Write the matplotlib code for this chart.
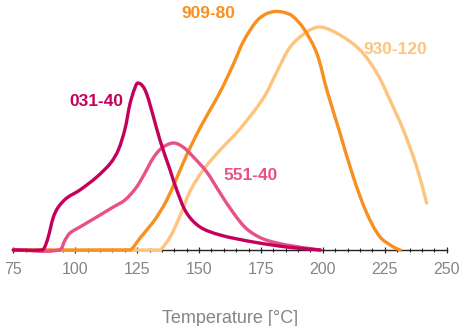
import numpy as np
import matplotlib
matplotlib.use("Agg")
import matplotlib.pyplot as plt
from matplotlib.path import Path
from matplotlib.patches import PathPatch
from matplotlib.ticker import MultipleLocator

plt.rcParams['font.family'] = ['Liberation Sans', 'DejaVu Sans']

# curves: temperature (°C) and relative intensity
t_031 = [75, 86.5, 87.5, 89.0, 91.2, 93.2, 96.6, 101.9, 108.7, 114.3, 117.4, 120.1, 122.1, 124.1, 125.5, 128.2, 131.5, 134.2, 138.3, 141, 145, 150.4, 158.5, 171.9, 185.4, 194, 199]
h_031 = [0, 0, 2, 12, 33, 43, 52, 60, 73, 87, 100, 121, 146, 162, 167, 160, 134, 110, 80, 60, 37, 23, 15, 8, 3, 1, 0]

t_551 = [75, 93.5, 95.9, 97.9, 101.9, 108.7, 115.4, 120.1, 124.5, 127.5, 131.5, 135, 139.6, 143.5, 147.7, 153.1, 158.5, 163.9, 169.3, 176, 185.4, 198.9]
h_551 = [0, 0, 10, 17, 23, 33, 43, 50, 62, 74, 92, 102, 107, 103, 93, 78, 57, 37, 21, 11, 5, 0]

t_909 = [75, 121.5, 122.8, 126.2, 131.5, 134.2, 137, 141, 145, 150.4, 158.5, 163.9, 168, 173.3, 177, 180.8, 184.5, 187.7, 192.1, 197.5, 201.6, 206.9, 212.3, 217.7, 223.1, 228.5, 231.2]
h_909 = [0, 0, 1, 12, 28, 38, 50, 72, 95, 122, 158, 186, 209, 229, 236, 238.5, 237.5, 234, 222, 197, 160, 117, 73, 37, 13, 3, 0]

t_930 = [75, 133.5, 134.8, 138.3, 142.3, 146.4, 151.7, 158.5, 166.5, 176, 181.4, 186.8, 193.5, 198.9, 206.9, 215, 221.8, 227.1, 232.5, 237.9, 241.9]
h_930 = [0, 0, 1, 13, 34, 59, 80, 100, 121, 152, 178, 203, 218, 223, 215, 200, 177, 150, 120, 83, 47]

series = [
    ("930-120", t_930, h_930, "#FDC47F"),
    ("909-80", t_909, h_909, "#F7901E"),
    ("551-40", t_551, h_551, "#E8508A"),
    ("031-40", t_031, h_031, "#C4005A"),
]

# label anchor points (temperature, height, alignment)
labels = {
    "031-40": (119.3, 148, "right"),
    "909-80": (164.5, 236, "right"),
    "930-120": (216.2, 201, "left"),
    "551-40": (159.7, 74, "left"),
}


def smooth_path(t, h, sx=2.476):
    # bezier path through the read points (tangent-based handles)
    p = np.column_stack([np.asarray(t, float) * sx, np.asarray(h, float)])
    n = len(p)
    tang = np.zeros_like(p)
    for i in range(n):
        a = p[max(i - 1, 0)]
        b = p[min(i + 1, n - 1)]
        d = b - a
        tang[i] = d / np.hypot(*d)
    verts = [p[0]]
    codes = [Path.MOVETO]
    for i in range(n - 1):
        seg = np.hypot(*(p[i + 1] - p[i])) / 3
        verts += [p[i] + tang[i] * seg, p[i + 1] - tang[i + 1] * seg, p[i + 1]]
        codes += [Path.CURVE4] * 3
    verts = np.array(verts)
    verts[:, 0] /= sx
    return Path(verts, codes)


fig = plt.figure(figsize=(4.64, 3.26), dpi=100)
ax = fig.add_axes([13.3 / 464, 76 / 326, 433.4 / 464, 245 / 326])

for name, t, h, col in series:
    ax.add_patch(PathPatch(smooth_path(t, h), facecolor="none", edgecolor=col, lw=2.4,
                           joinstyle="round", capstyle="round", clip_on=False, zorder=3))
    x, y, ha = labels[name]
    ax.text(x, y, name, color=col, fontsize=12.5, fontweight="bold", ha=ha, va="center")

ax.set_xlim(75, 250)
ax.set_ylim(0, 245)
ax.xaxis.set_major_locator(MultipleLocator(25))
ax.xaxis.set_minor_locator(MultipleLocator(5))
ax.tick_params(axis="x", which="major", direction="inout", length=5, width=0.9, color="#222222",
               labelsize=11.5, labelcolor="#858585", pad=6)
ax.tick_params(axis="x", which="minor", direction="inout", length=3.5, width=0.8, color="#222222")
ax.set_yticks([])
for s in ["top", "right", "left"]:
    ax.spines[s].set_visible(False)
ax.spines["bottom"].set_linewidth(1.0)
ax.spines["bottom"].set_color("#222222")
ax.set_xlabel("Temperature [°C]", fontsize=13, color="#858585", labelpad=24)

fig.savefig("out.png", dpi=100)
